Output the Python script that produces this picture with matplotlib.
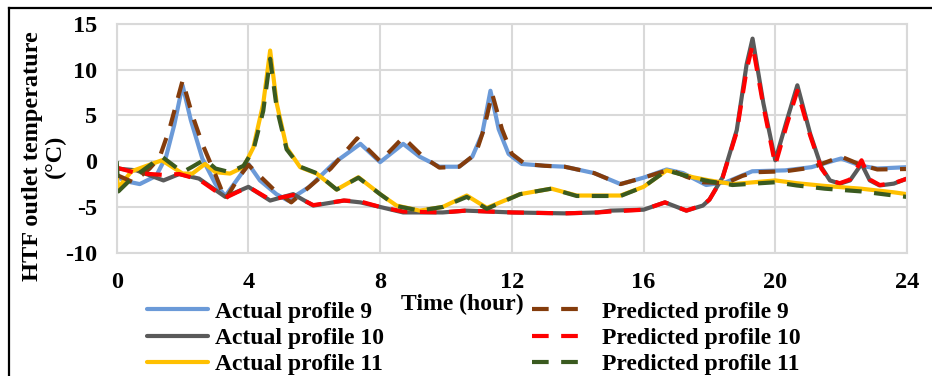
import matplotlib
matplotlib.use('Agg')
import matplotlib.pyplot as plt
from matplotlib.lines import Line2D

# ─── Data ─────────────────────────────────────────────────────────────────────
t_act9  = [0, 0.3, 0.7, 1.2, 1.5, 1.75, 2.0, 2.25, 2.6, 3.0, 3.3, 3.7, 4.0, 4.35,
           4.85, 5.2, 5.85, 6.6, 7.4, 8.0, 8.7, 9.2, 9.8, 10.4, 10.8, 11.1, 11.35,
           11.6, 11.9, 12.3, 13.0, 13.6, 14.5, 15.3, 16.0, 16.7, 17.2, 17.9, 18.5,
           19.3, 20.3, 21.1, 22.0, 22.6, 23.1, 24.0]
act9    = [-1.7, -2.2, -2.5, -1.6, 0.5, 4.0, 8.3, 4.5, 0.3, -2.5, -3.8, -1.8, -0.3,
           -2.1, -3.6, -4.3, -2.8, -0.2, 1.9, -0.1, 1.9, 0.5, -0.6, -0.6, 0.5, 3.0,
           7.7, 3.5, 0.8, -0.3, -0.5, -0.6, -1.3, -2.5, -1.8, -0.9, -1.3, -2.6,
           -2.3, -1.1, -1.0, -0.65, 0.3, -0.5, -0.8, -0.65]

t_pred9 = [0, 0.5, 1.0, 1.3, 1.6, 2.0, 2.3, 2.6, 3.0, 3.3, 3.7, 4.0, 4.4, 4.8, 5.3,
           5.85, 6.5, 7.3, 8.0, 8.7, 9.3, 9.8, 10.4, 10.9, 11.15, 11.4, 11.7, 12.0,
           12.4, 13.0, 13.6, 14.5, 15.3, 16.0, 16.8, 17.3, 17.8, 18.5, 19.0, 19.4,
           20.3, 21.1, 22.0, 22.6, 23.1, 24.0]
pred9   = [-1.5, -2.3, -0.8, 0.4, 3.5, 8.8, 5.0, 1.9, -1.5, -4.2, -1.8, -0.4, -1.8,
           -3.2, -4.5, -2.8, -0.8, 2.5, 0.0, 2.6, 0.5, -0.7, -0.6, 0.8, 3.5, 7.4,
           3.5, 0.8, -0.3, -0.5, -0.6, -1.3, -2.5, -1.8, -0.9, -1.7, -2.3, -2.4,
           -1.6, -1.2, -1.1, -0.7, 0.5, -0.4, -0.9, -0.85]

t_p10   = [0, 0.6, 1.42, 1.9, 2.5, 3.3, 4.0, 4.66, 5.36, 5.97, 6.9, 7.4, 8.0, 8.7,
           9.9, 10.6, 12.0, 13.6, 14.6, 15.0, 16.0, 16.65, 17.3, 17.8, 18.0, 18.4,
           18.83, 19.13, 19.31, 19.64, 20.0, 20.35, 20.67, 21.06, 21.4, 21.66,
           21.96, 22.27, 22.62, 22.87, 23.17, 23.6, 24.0]
act10   = [-0.8, -1.0, -2.1, -1.4, -1.9, -3.9, -2.8, -4.3, -3.6, -4.85, -4.3, -4.5,
           -5.0, -5.6, -5.6, -5.4, -5.6, -5.7, -5.6, -5.4, -5.3, -4.5, -5.4, -4.85,
           -4.2, -1.75, 3.4, 10.6, 13.4, 6.3, 0.1, 4.45, 8.3, 3.0, -0.65, -2.1,
           -2.45, -2.1, -0.3, -2.1, -2.65, -2.45, -1.9]
pred10  = [-0.7, -1.3, -1.5, -1.4, -2.0, -4.0, -2.8, -4.2, -3.7, -4.8, -4.3, -4.4,
           -5.0, -5.5, -5.6, -5.4, -5.6, -5.7, -5.6, -5.5, -5.3, -4.5, -5.4, -4.8,
           -4.2, -1.8, 3.2, 10.0, 12.7, 6.0, -0.4, 4.0, 7.7, 2.8, -0.8, -2.1,
           -2.4, -2.0, 0.1, -2.0, -2.6, -2.4, -1.9]

t_p11   = [0, 0.05, 0.45, 1.37, 2.0, 2.3, 2.68, 3.0, 3.44, 3.85, 4.15, 4.45, 4.66,
           4.86, 5.16, 5.57, 6.07, 6.68, 7.34, 8.0, 8.5, 9.2, 9.9, 10.63, 11.24,
           12.25, 13.2, 13.97, 15.3, 16.0, 16.7, 17.5, 18.0, 18.7, 20.0, 20.65,
           21.5, 22.6, 23.6, 24.0]
act11   = [-1.7, -2.9, -1.1, 0.1, -1.35, -1.35, -0.3, -1.2, -1.35, -0.65, 1.5, 6.3,
           12.1, 6.3, 1.5, -0.65, -1.35, -3.1, -1.75, -3.6, -4.85, -5.4, -5.0,
           -3.75, -5.1, -3.6, -3.0, -3.75, -3.75, -2.8, -1.0, -1.75, -2.1, -2.5,
           -2.1, -2.4, -2.7, -3.0, -3.4, -3.6]
pred11  = [0.0, -3.3, -1.9, 0.5, -1.2, -0.6, 0.2, -0.8, -1.2, -0.5, 1.2, 5.5,
           11.2, 5.8, 1.3, -0.6, -1.3, -3.1, -1.8, -3.6, -4.9, -5.4, -5.0, -3.9,
           -5.2, -3.6, -3.0, -3.8, -3.8, -2.8, -1.0, -1.8, -2.2, -2.6, -2.3, -2.65,
           -3.0, -3.3, -3.75, -3.9]

x_ticks = [0, 4, 8, 12, 16, 20, 24]
y_ticks = [-10, -5, 0, 5, 10, 15]

C_BLUE, C_GRAY, C_YEL = '#6b9ad8', '#5a5a5a', '#ffc000'
C_BROWN, C_RED, C_GREEN = '#843c0c', '#ff0000', '#3a5a1f'

plt.rcParams['font.family'] = ['Liberation Serif', 'DejaVu Serif']
plt.rcParams['font.weight'] = 'bold'
plt.rcParams['axes.unicode_minus'] = False
FS_TICK = 17.5
FS = 17

fig = plt.figure(figsize=(9.32, 3.76), dpi=100)
ax = fig.add_axes([116.7 / 932, 1 - 252.7 / 376, (907 - 116.7) / 932, (252.7 - 24) / 376])

LW = 3.0
ax.plot(t_act9, act9, color=C_BLUE, lw=LW, solid_capstyle='round', label='Actual profile 9')
ax.plot(t_p10, act10, color=C_GRAY, lw=LW, solid_capstyle='round', label='Actual profile 10')
ax.plot(t_p11, act11, color=C_YEL, lw=LW, solid_capstyle='round', label='Actual profile 11')
ax.plot(t_pred9, pred9, color=C_BROWN, lw=LW, dashes=(4, 3), label='Predicted profile 9')
ax.plot(t_p10, pred10, color=C_RED, lw=LW, dashes=(4, 3), label='Predicted profile 10')
ax.plot(t_p11, pred11, color=C_GREEN, lw=LW, dashes=(4, 3), label='Predicted profile 11')

ax.set_xlim(0, 24)
ax.set_ylim(-10, 15)
ax.set_xticks(x_ticks)
ax.set_yticks(y_ticks)
ax.grid(True, color='#d9d9d9', lw=1.5)
ax.set_axisbelow(True)
for sp in ax.spines.values():
    sp.set_color('#d9d9d9')
    sp.set_linewidth(1.5)
ax.tick_params(length=0, labelsize=FS_TICK)
ax.tick_params(axis='x', pad=14)
ax.tick_params(axis='y', pad=14)

fig.text(462 / 932, 1 - 304 / 376, 'Time (hour)', ha='center', va='center',
         fontsize=FS, fontweight='bold')
fig.text(44 / 932, 1 - 156 / 376, 'HTF outlet temperature\n(°C)', rotation=90,
         ha='center', va='center', multialignment='center', fontsize=17.5,
         fontweight='bold', linespacing=1.1)
# panel label, almost entirely above the top edge as in the source figure
fig.text(466 / 932, 1 + 5 / 376, '(c)', ha='center', va='baseline', fontsize=FS,
         fontweight='bold')

h, l = ax.get_legend_handles_labels()
leg1 = fig.legend(h[:3], l[:3], loc='center left', bbox_to_anchor=(147 / 932, 1 - 338 / 376),
                  frameon=False, fontsize=FS, handlelength=2.6, handletextpad=0.3,
                  labelspacing=0.2, borderpad=0, borderaxespad=0)
leg2 = fig.legend(h[3:], l[3:], loc='center left', bbox_to_anchor=(532 / 932, 1 - 338 / 376),
                  frameon=False, fontsize=FS, handlelength=2.1, handletextpad=0.85,
                  labelspacing=0.2, borderpad=0, borderaxespad=0)

# figure frame (left and top edges only)
fig.add_artist(Line2D([8.5 / 932, 8.5 / 932], [0, 1 - 7.5 / 376], color='black', lw=1.6,
                      transform=fig.transFigure))
fig.add_artist(Line2D([8.5 / 932, 1], [1 - 7.5 / 376, 1 - 7.5 / 376], color='black', lw=1.6,
                      transform=fig.transFigure))

fig.savefig('out.png', dpi=100)
